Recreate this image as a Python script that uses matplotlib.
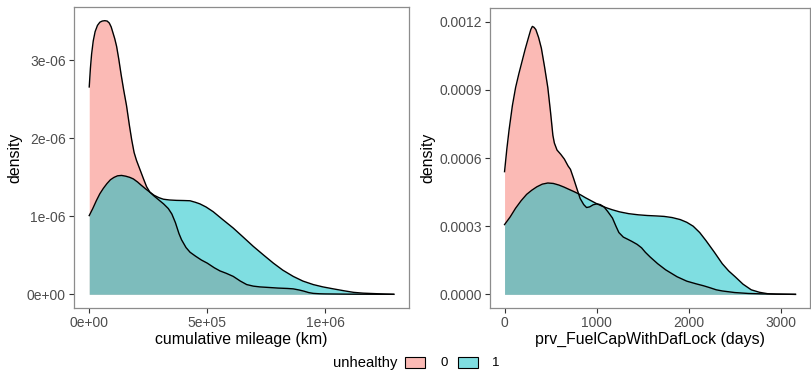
import matplotlib
matplotlib.use("Agg")
import matplotlib.pyplot as plt
from matplotlib.patches import Rectangle
from matplotlib.ticker import FixedLocator

plt.rcParams['font.family'] = ['Liberation Sans', 'DejaVu Sans']

# density curves
# left panel: cumulative mileage (km), density in units of 1e-6
mileage_x0 = [0, 5000, 10000, 17000, 25000, 35000, 45000, 55000, 66000, 76000, 85000,
              93000, 100000, 108000, 116000, 125000, 135000, 146000, 158000, 170000,
              180000, 190000, 200000, 215000, 230000, 243000, 257000, 275000, 295000,
              315000, 335000, 350000, 365000, 380000, 391000, 410000, 427000, 450000,
              475000, 500000, 530000, 554000, 580000, 610000, 640000, 667000, 695000,
              723000, 760000, 800000, 840000, 864000, 890000, 910000, 930000, 949000,
              975000, 1000000, 1100000, 1200000, 1290000]
mileage_d0 = [2.66, 2.90, 3.08, 3.25, 3.37, 3.45, 3.49, 3.505, 3.51, 3.505, 3.48,
              3.43, 3.36, 3.28, 3.18, 3.02, 2.82, 2.62, 2.42, 2.17,
              1.98, 1.82, 1.72, 1.60, 1.48, 1.38, 1.31, 1.26, 1.21,
              1.16, 1.10, 1.03, 0.92, 0.78, 0.70, 0.60, 0.54, 0.49,
              0.44, 0.40, 0.34, 0.30, 0.27, 0.23, 0.17, 0.125, 0.105,
              0.095, 0.088, 0.08, 0.075, 0.07, 0.055, 0.04, 0.022, 0.012,
              0.007, 0.005, 0.002, 0.001, 0.0]
mileage_x1 = [0, 15000, 30000, 45000, 60000, 75000, 90000, 105000, 120000, 137000,
              155000, 172000, 187000, 205000, 220000, 240000, 257000, 275000, 295000,
              314000, 340000, 370000, 400000, 427000, 450000, 469000, 495000, 525000,
              565000, 610000, 650000, 695000, 740000, 780000, 820000, 864000, 905000,
              949000, 990000, 1034000, 1080000, 1120000, 1160000, 1200000, 1250000,
              1290000]
mileage_d1 = [1.01, 1.10, 1.20, 1.29, 1.36, 1.42, 1.47, 1.50, 1.52, 1.525,
              1.515, 1.50, 1.48, 1.44, 1.40, 1.35, 1.31, 1.27, 1.24,
              1.22, 1.21, 1.205, 1.203, 1.20, 1.18, 1.16, 1.12, 1.06,
              0.96, 0.85, 0.74, 0.615, 0.50, 0.40, 0.31, 0.23, 0.17,
              0.125, 0.095, 0.07, 0.045, 0.025, 0.015, 0.01, 0.004,
              0.0]

# right panel: prv_FuelCapWithDafLock (days)
fuel_x0 = [0, 25, 49, 85, 120, 155, 190, 225, 260, 285, 302, 320, 340, 370, 400, 435,
           470, 500, 525, 541, 570, 611, 650, 690, 716, 750, 790, 821, 860, 891, 925,
           962, 1000, 1040, 1080, 1120, 1172, 1210, 1242, 1290, 1340, 1383, 1440,
           1488, 1530, 1580, 1663, 1750, 1874, 1980, 2084, 2160, 2225, 2300, 2365,
           2500, 2646, 2800, 3000, 3160]
fuel_d0 = [0.000540, 0.00064, 0.000723, 0.00083, 0.00091, 0.00097, 0.001025, 0.00108,
           0.00113, 0.001165, 0.001179, 0.001175, 0.001165, 0.00113, 0.001083, 0.001,
           0.00091, 0.0008, 0.0007, 0.000666, 0.000635, 0.000616, 0.000595, 0.000565,
           0.00055, 0.00051, 0.00046, 0.000422, 0.000395, 0.000382, 0.000385,
           0.000394, 0.000398, 0.000395, 0.000385, 0.000365, 0.000336, 0.0003,
           0.000272, 0.000252, 0.000242, 0.000233, 0.00022, 0.000205, 0.000185,
           0.000165, 0.000135, 0.000108, 0.0000775, 0.000058, 0.000046, 0.000038,
           0.00003, 0.00002, 0.000015, 0.000008, 0.000004, 0.000002, 0.000001, 0.0]
fuel_x1 = [0, 60, 120, 180, 240, 295, 350, 410, 470, 530, 590, 646, 700, 760, 821,
           880, 940, 996, 1060, 1120, 1172, 1250, 1350, 1453, 1550, 1650, 1733, 1820,
           1909, 1980, 2049, 2120, 2189, 2280, 2365, 2435, 2505, 2590, 2680, 2770,
           2856, 2950, 3031, 3160]
fuel_d1 = [0.000307, 0.00034, 0.000379, 0.000412, 0.00044, 0.000458, 0.000473,
           0.000485, 0.00049, 0.000488, 0.000481, 0.000472, 0.000462, 0.000451,
           0.000439, 0.000425, 0.000412, 0.0004, 0.000388, 0.000379, 0.000372,
           0.000363, 0.000355, 0.00035, 0.000347, 0.000345, 0.000343, 0.000338,
           0.000329, 0.000317, 0.0003, 0.000272, 0.000236, 0.000185, 0.000135,
           0.000103, 0.0000775, 0.000045, 0.00002, 0.000009, 0.000003, 0.000001,
           0.0000005, 0.0]

groups = ['0', '1']
colors = ['#F8766D', '#00BFC4']

W, H = 811, 373
fig = plt.figure(figsize=(W / 100, H / 100), dpi=100)


def px_axes(x0, y0, x1, y1):
    return fig.add_axes([x0 / W, 1 - y1 / H, (x1 - x0) / W, (y1 - y0) / H])


ax1 = px_axes(74, 7, 409, 308)
ax2 = px_axes(490, 8, 810, 308)

d0_left = [v * 1e-6 for v in mileage_d0]
d1_left = [v * 1e-6 for v in mileage_d1]

panels = [
    (ax1, [(mileage_x0, d0_left), (mileage_x1, d1_left)], 1290000, 3.51e-6,
     [0, 5e5, 1e6], ['0e+00', '5e+05', '1e+06'],
     [0, 1e-6, 2e-6, 3e-6], ['0e+00', '1e-06', '2e-06', '3e-06'],
     'cumulative mileage (km)'),
    (ax2, [(fuel_x0, fuel_d0), (fuel_x1, fuel_d1)], 3160, 0.0012,
     [0, 1000, 2000, 3000], ['0', '1000', '2000', '3000'],
     [0, 0.0003, 0.0006, 0.0009, 0.0012], ['0.0000', '0.0003', '0.0006', '0.0009', '0.0012'],
     'prv_FuelCapWithDafLock (days)'),
]

for ax, curves, xmax, ymax, xt, xtl, yt, ytl, xlabel in panels:
    for (xs, ds), c in zip(curves, colors):
        ax.fill_between(xs, 0, ds, color=c, alpha=0.5, lw=0)
        ax.plot(xs, ds, color='black', lw=1.0, solid_joinstyle='round')
    ax.set_xlim(-0.05 * xmax, 1.05 * xmax)
    ax.set_ylim(-0.05 * ymax, 1.05 * ymax)
    ax.xaxis.set_major_locator(FixedLocator(xt))
    ax.set_xticklabels(xtl)
    ax.yaxis.set_major_locator(FixedLocator(yt))
    ax.set_yticklabels(ytl)
    ax.tick_params(colors='#333333', labelcolor='#4d4d4d', labelsize=10, length=3.5,
                   width=0.8, pad=2.5)
    for s in ax.spines.values():
        s.set_color('#8c8c8c')
        s.set_linewidth(0.9)
    ax.set_xlabel(xlabel, fontsize=11.4, labelpad=1)
    ax.set_ylabel('density', fontsize=11.4, labelpad=3)

# legend at the bottom
fig.text(333 / W, 1 - 363 / H, 'unhealthy', fontsize=10.6, va='center', ha='left')
key_x = [405, 458]
lab_x = [440, 492]
for kx, lx, c, g in zip(key_x, lab_x, colors, groups):
    fig.patches.append(Rectangle((kx / W, 1 - 368 / H), 20 / W, 11 / H,
                                 transform=fig.transFigure, facecolor=c, alpha=0.5,
                                 edgecolor='none'))
    fig.patches.append(Rectangle((kx / W, 1 - 368 / H), 20 / W, 11 / H,
                                 transform=fig.transFigure, facecolor='none',
                                 edgecolor='black', lw=0.8))
    fig.text(lx / W, 1 - 363 / H, g, fontsize=9.5, va='center', ha='left')

fig.savefig('out.png', dpi=100)
